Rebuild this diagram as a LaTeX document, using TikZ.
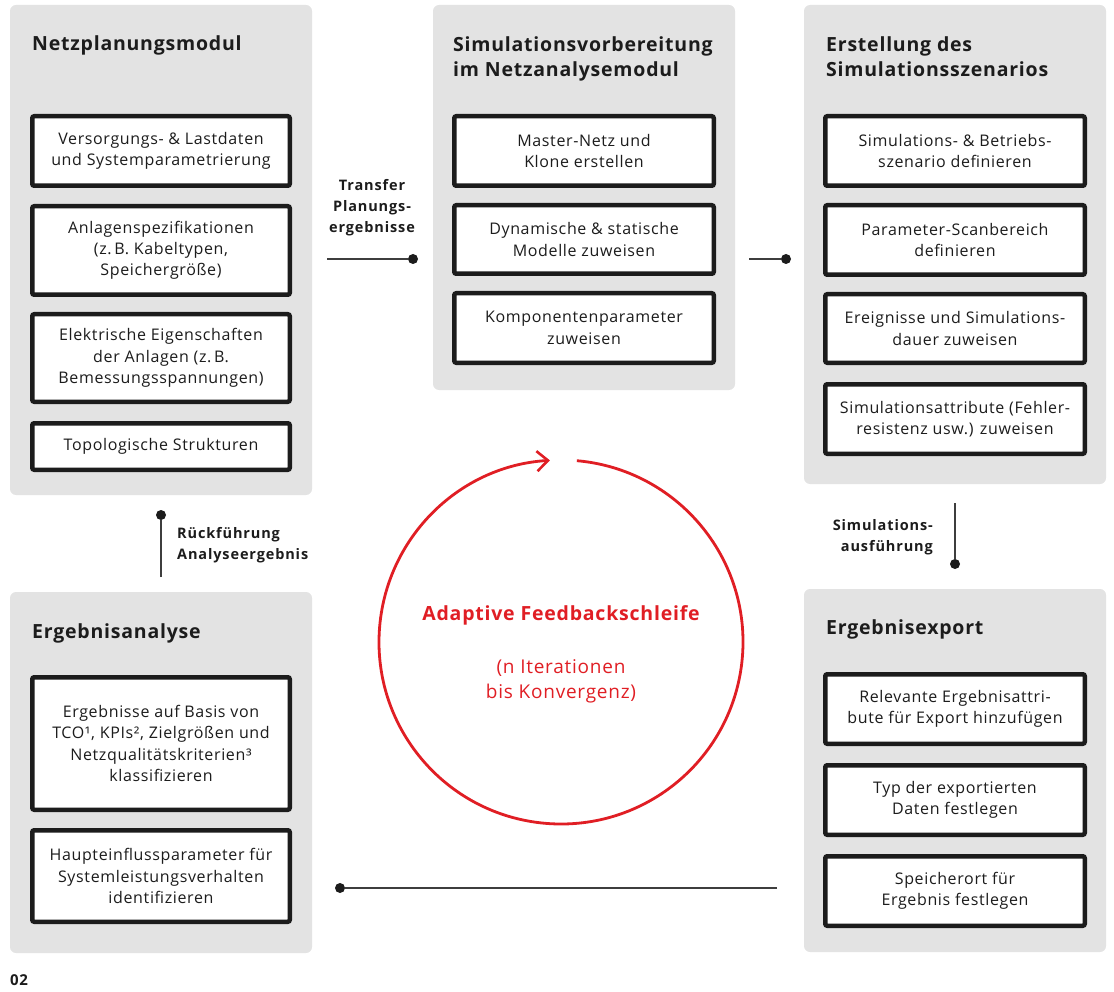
\documentclass[tikz,border=0pt]{standalone}
\usepackage{fontspec}
\setmainfont{Open Sans}[LetterSpace=4]
\usetikzlibrary{arrows.meta,calc}

\definecolor{panelgray}{RGB}{227,227,227}
\definecolor{ink}{RGB}{28,28,28}
\definecolor{loopred}{RGB}{224,30,36}

\tikzset{
  panel/.style={fill=panelgray, rounded corners=6pt, inner sep=0pt},
  cell/.style={draw=ink, line width=4.5pt, fill=white, rounded corners=2pt,
    align=center, font=\fontsize{16}{21.3}\selectfont, text=ink, inner sep=0pt},
  head/.style={font=\fontsize{19.5}{25.5}\selectfont\bfseries, text=ink,
    align=left, inner sep=0pt, anchor=base west},
  flowlabel/.style={font=\fontsize{14.5}{21}\selectfont\bfseries\addfontfeatures{LetterSpace=6},
    text=ink, inner sep=0pt},
  link/.style={draw=ink!85, line width=1.4pt},
  dot/.style={circle, fill=ink, inner sep=0pt, minimum size=10pt},
  loop/.style={draw=loopred, line width=2.8pt, -{Straight Barb[length=11pt,width=20pt,line width=2.6pt]}},
}

% panel from corner (x1,y1) to (x2,y2)
\newcommand\panelnode[6]{%
  \node[panel, minimum width={(#5)-(#3)}, minimum height={(#6)-(#4)}]
    (#1) at ({((#3)+(#5))/2},{((#4)+(#6))/2}) {#2};}
% framed step box, outer edges at (x1,y1) and (x2,y2)
\newcommand\cellnode[6]{%
  \node[cell, minimum width={(#5)-(#3)-4.5}, minimum height={(#6)-(#4)-4.5}]
    (#1) at ({((#3)+(#5))/2},{((#4)+(#6))/2+1}) {#2};}

\begin{document}
\begin{tikzpicture}[x=1pt, y=-1pt]
\useasboundingbox (0,0) rectangle (1114,992);

% ---------- panels ----------
\panelnode{pPlan}{}{10}{5}{312}{495}
\panelnode{pPrep}{}{433}{5}{735}{390}
\panelnode{pScen}{}{804}{5}{1106}{484}
\panelnode{pAna}{}{10}{592}{312}{953}
\panelnode{pExp}{}{804}{589}{1106}{952}

% ---------- headings (base = last line) ----------
\node[head] (hPlan) at (32,51) {Netzplanungsmodul};
\node[head] (hPrep) at (453,77) {Simulationsvorbereitung\\im Netzanalysemodul};
\node[head] (hScen) at (826,77) {Erstellung des\\Simulationsszenarios};
\node[head] (hAna) at (32,638) {Ergebnisanalyse};
\node[head] (hExp) at (826,634) {Ergebnisexport};

% ---------- Netzplanungsmodul ----------
\cellnode{a1}{Versorgungs- \& Lastdaten\\und Systemparametrierung}{30}{113}{292}{187}
\cellnode{a2}{Anlagenspezifikationen\\(z.\,B. Kabeltypen,\\Speichergröße)}{30}{203}{292}{296}
\cellnode{a3}{Elektrische Eigenschaften\\der Anlagen (z.\,B.\\Bemessungsspannungen)}{30}{311}{292}{403}
\cellnode{a4}{Topologische Strukturen}{30}{420}{292}{471}

% ---------- Simulationsvorbereitung ----------
\cellnode{b1}{Master-Netz und\\Klone erstellen}{452}{113}{716}{187}
\cellnode{b2}{Dynamische \& statische\\Modelle zuweisen}{452}{202}{716}{275}
\cellnode{b3}{Komponentenparameter\\zuweisen}{452}{290}{716}{364}

% ---------- Simulationsszenario ----------
\cellnode{c1}{Simulations- \& Betriebs-\\szenario definieren}{823}{113}{1087}{187}
\cellnode{c2}{Parameter-Scanbereich\\definieren}{823}{202}{1087}{276}
\cellnode{c3}{Ereignisse und Simulations-\\dauer zuweisen}{823}{291}{1087}{364}
\cellnode{c4}{Simulationsattribute (Fehler-\\resistenz usw.) zuweisen}{823}{381}{1087}{455}

% ---------- Ergebnisexport ----------
\cellnode{e1}{Relevante Ergebnisattri-\\bute für Export hinzufügen}{823}{671}{1087}{745}
\cellnode{e2}{Typ der exportierten\\Daten festlegen}{823}{762}{1087}{836}
\cellnode{e3}{Speicherort für\\Ergebnis festlegen}{823}{853}{1087}{927}

% ---------- Ergebnisanalyse ----------
\cellnode{d1}{Ergebnisse auf Basis von\\TCO¹, KPIs², Zielgrößen und\\Netzqualitätskriterien³\\klassifizieren}{30}{674}{292}{811}
\cellnode{d2}{Haupteinflussparameter für\\Systemleistungsverhalten\\identifizieren}{30}{827}{292}{923}

% ---------- transitions ----------
\coordinate (t1s) at (327,259);
\node[dot] (t1e) at (413,259) {};
\draw[link] (t1s) -- (t1e);
\node[flowlabel, align=center, anchor=base] (t1l) at (372,233) {Transfer\\Planungs-\\ergebnisse};

\coordinate (t2s) at (749,259);
\node[dot] (t2e) at (786,259) {};
\draw[link] (t2s) -- (t2e);

\coordinate (t3s) at (955,503);
\node[dot] (t3e) at (955,564) {};
\draw[link] (t3s) -- (t3e);
\node[flowlabel, align=right, anchor=base east] (t3l) at (933,551) {Simulations-\\ausführung};

\coordinate (t4s) at (777,888);
\node[dot] (t4e) at (340,888) {};
\draw[link] (t4s) -- (t4e);

\coordinate (t5s) at (161,577);
\node[dot] (t5e) at (161,515) {};
\draw[link] (t5s) -- (t5e);
\node[flowlabel, align=left, anchor=base west] (t5l) at (177,559) {Rückführung\\Analyseergebnis};

% ---------- feedback loop ----------
\coordinate (lc) at (561,642);
\draw[loop] ($(lc)+(85:182pt)$) arc[start angle=85, end angle=-266.5, radius=182pt];
\node[font=\fontsize{19.5}{25}\selectfont\bfseries, text=loopred, anchor=base, inner sep=0pt]
  (loopTitle) at (561,620) {Adaptive Feedbackschleife};
\node[font=\fontsize{19}{25}\selectfont, text=loopred, align=center, anchor=base, inner sep=0pt]
  (loopNote) at (561,698) {(n Iterationen\\bis Konvergenz)};

% ---------- figure number ----------
\node[font=\fontsize{15}{17}\selectfont\bfseries, text=ink, anchor=base west, inner sep=0pt]
  (figNo) at (10,985) {02};
\end{tikzpicture}
\end{document}
